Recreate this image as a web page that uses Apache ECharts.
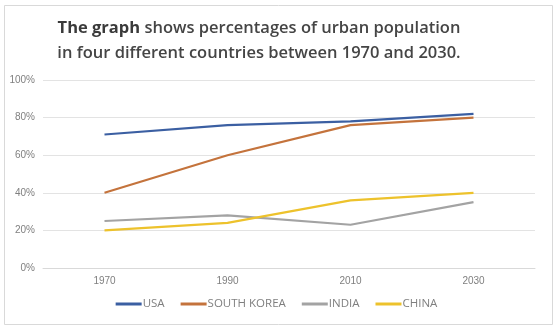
<!DOCTYPE html>
<html>
<head>
<meta charset="utf-8">
<script src="https://cdn.jsdelivr.net/npm/echarts@6/dist/echarts.min.js"></script>
<style>
  html, body { margin: 0; padding: 0; background: #fff; }
  #chart { width: 553px; height: 325px; }
</style>
</head>
<body>
<div id="chart"></div>
<script>
// Urban population share (%) by country, 1970–2030
const years = ['1970', '1990', '2010', '2030'];
const usa = [71, 76, 78, 82];
const southKorea = [40, 60, 76, 80];
const india = [25, 28, 23, 35];
const china = [20, 24, 36, 40];
const seriesNames = ['USA', 'SOUTH KOREA', 'INDIA', 'CHINA'];
const seriesColors = ['#3b5fa2', '#c4733c', '#a3a3a3', '#edc22c'];
const titleLines = [
  '{b|The graph} shows percentages of urban population',
  'in four different countries between 1970 and 2030.'
];

const chart = echarts.init(document.getElementById('chart'));
const values = [usa, southKorea, india, china];

const titleStyle = {
  fontFamily: 'Open Sans',
  fontSize: 16.5,
  fontWeight: 600,
  color: '#454545',
  lineHeight: 25,
  rich: {
    b: { fontFamily: 'Open Sans', fontSize: 16.5, fontWeight: 'bold', color: '#3a3a3a', lineHeight: 25 }
  }
};

chart.setOption({
  animation: false,
  backgroundColor: '#ffffff',
  graphic: [{
    type: 'rect',
    left: 2, top: 3,
    shape: { width: 548, height: 319 },
    style: { fill: 'none', stroke: '#d9d9d9', lineWidth: 1 },
    silent: true
  }],
  // each title line centred on its own
  title: titleLines.map((line, i) => ({
    text: line,
    left: 254,
    textAlign: 'center',
    top: 11 + i * 25,
    textStyle: titleStyle
  })),
  legend: {
    bottom: 10,
    left: 'center',
    itemWidth: 26,
    itemHeight: 3,
    itemGap: 16,
    icon: 'rect',
    textStyle: { color: '#7f7f7f', fontSize: 11.5, fontFamily: 'Open Sans', padding: [0, 0, 0, -4] },
    data: seriesNames
  },
  grid: { left: 43, right: 18, top: 80, bottom: 57 },
  xAxis: {
    type: 'category',
    data: years,
    boundaryGap: true,
    axisLine: { show: true, lineStyle: { color: '#d9d9d9' } },
    axisTick: { show: false },
    axisLabel: { color: '#7f7f7f', fontSize: 10, margin: 8 }
  },
  yAxis: {
    type: 'value',
    min: 0, max: 100, interval: 20,
    axisLine: { show: false },
    axisTick: { show: false },
    axisLabel: { color: '#7f7f7f', fontSize: 10, formatter: '{value}%', margin: 8 },
    splitLine: { lineStyle: { color: '#e3e3e3' } }
  },
  series: seriesNames.map((name, i) => ({
    name,
    type: 'line',
    data: values[i],
    symbol: 'none',
    lineStyle: { color: seriesColors[i], width: 2.2 },
    itemStyle: { color: seriesColors[i] }
  }))
});
</script>
</body>
</html>
